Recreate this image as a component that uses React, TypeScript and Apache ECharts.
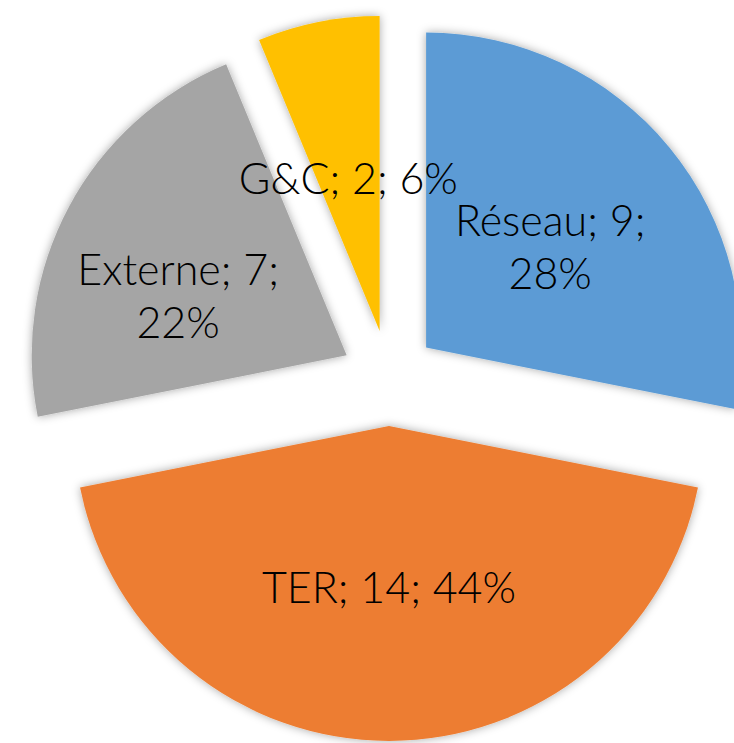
import React, { useEffect, useRef } from "react";
import * as echarts from "echarts";

const categories = ["Réseau", "TER", "Externe", "G&C"];
const values = [9, 14, 7, 2];
const colors = ["#5B9BD5", "#ED7D31", "#A5A5A5", "#FFC000"];
const wrappedLabels = ["Réseau", "Externe"];
const labelShift = [
  [0, 0],
  [0, 0],
  [-27, 15],
  [0, 4],
];

export default function App() {
  const ref = useRef<HTMLDivElement>(null);
  useEffect(() => {
    const chart = echarts.init(ref.current!, null, { renderer: "svg" });
    chart.setOption({
      animation: false,
      series: [
        {
          type: "pie",
          center: [389, 378],
          radius: 315,
          startAngle: 90,
          clockwise: true,
          selectedMode: "multiple",
          selectedOffset: 48,
          percentPrecision: 0,
          avoidLabelOverlap: false,
          emphasis: { disabled: true },
          label: {
            show: true,
            position: "inside",
            formatter: (p: any) =>
              wrappedLabels.includes(p.name)
                ? `${p.name}; ${p.value};\n${p.percent}%`
                : `${p.name}; ${p.value}; ${p.percent}%`,
            fontFamily: "Lato",
            fontWeight: 300,
            fontSize: 43,
            lineHeight: 53,
            color: "#000",
          },
          labelLine: { show: false },
          labelLayout: (p: any) => ({
            dx: labelShift[p.dataIndex][0],
            dy: labelShift[p.dataIndex][1],
          }),
          itemStyle: {
            borderWidth: 0,
            shadowBlur: 10,
            shadowColor: "rgba(0,0,0,0.35)",
          },
          data: categories.map((name, i) => ({
            name,
            value: values[i],
            selected: true,
            itemStyle: { color: colors[i] },
          })),
        },
      ],
    });
    return () => chart.dispose();
  }, []);
  return (
    <div
      ref={ref}
      style={{ position: "absolute", left: 0, top: 0, width: 734, height: 743 }}
    />
  );
}
